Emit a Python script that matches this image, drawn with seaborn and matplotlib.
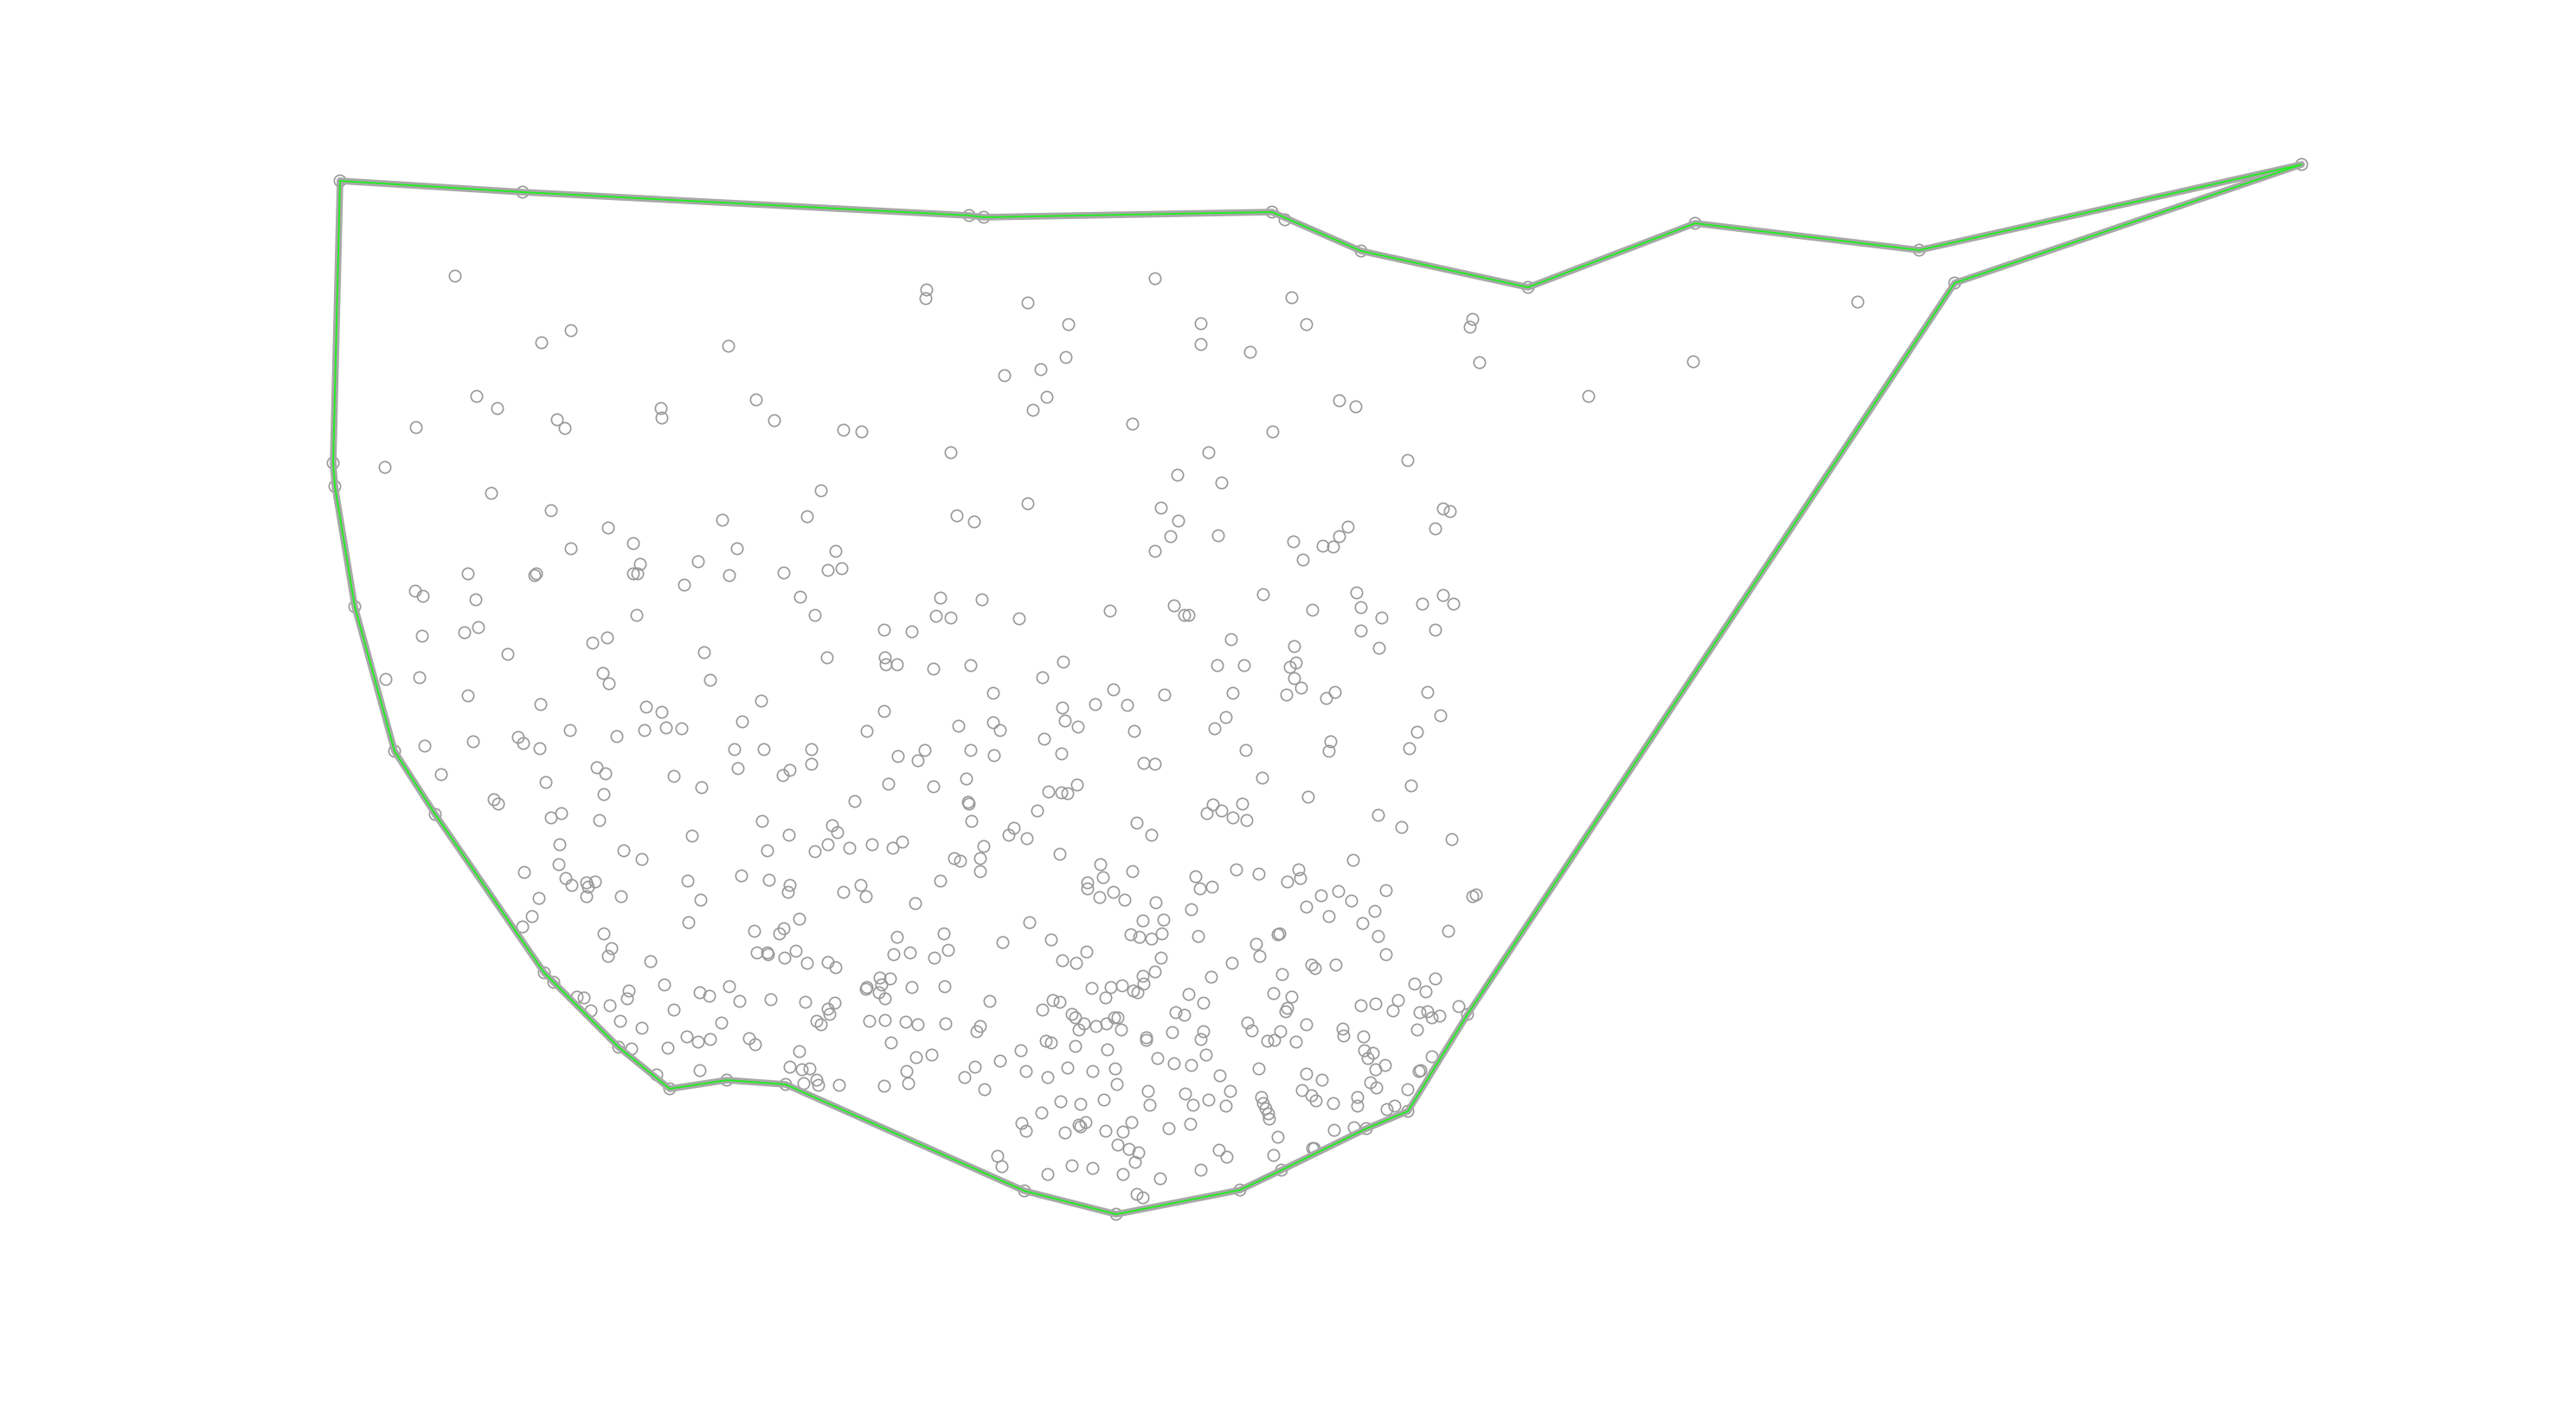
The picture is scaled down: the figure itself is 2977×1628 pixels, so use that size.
import numpy as np
import pandas as pd
import matplotlib
matplotlib.use('Agg')
import matplotlib.pyplot as plt
import seaborn as sns

# point positions (x, y), y grows downwards
upper_left = [(526,319),(660,382),(626,396),(842,400),(551,458),(575,472),(481,494),(644,485),(653,495),
              (764,472),(765,483),(445,540),(568,570),(637,590),(703,610),(835,601),(732,628),(660,634),
              (852,634),(807,649),(740,652),(541,663),(620,663),(618,665),(732,663),(737,663),(843,665),(791,676)]

upper_mid = [(1071,335),(1070,345),(1188,350),(1235,375),(1232,413),(1203,427),(1161,434),(1210,459),(1194,474),
             (874,462),(895,486),(975,497),(996,499),(1099,523),(949,567),(933,597),(1106,596),(1126,603),
             (1188,582),(966,637),(906,662),(957,659),(973,657)]

upper_right = [(1335,322),(1493,344),(1388,374),(1510,375),(1388,398),(1445,407),(1702,369),(1699,378),(1710,419),
               (1548,463),(1567,470),(1309,490),(1471,499),(1397,523),(1361,549),(1412,558),(1627,532),(1342,587),
               (1362,602),(1353,620),(1335,637),(1408,619),(1495,626),(1506,647),(1529,631),(1541,632),(1548,620),
               (1558,609),(1668,588),(1676,591),(1659,611),(1836,458),(1957,418),(2147,349),(1485,254)]

mid_left = [(480,683),(489,689),(550,693),(736,711),(488,735),(537,731),(553,725),(587,756),(685,743),(702,737),
            (814,754),(446,785),(485,783),(541,804),(697,778),(704,790),(821,786),(625,814),(747,817),(765,823),
            (659,844),(745,844),(770,841),(788,842),(858,834),(713,851),(491,862),(547,857),(599,852),(605,859),
            (624,865),(849,866),(853,888),(510,895),(690,887),(700,894),(779,897),(631,904),(811,910),(698,918),
            (571,924),(576,929),(637,945),(649,940),(693,948),(800,966),(647,976),(721,983),(742,993),(646,999),
            (606,1008),(654,1015),(661,1023),(678,1020),(688,1019),(680,1025),(795,1018),(857,1012),(623,1038),
            (678,1036),(718,1036),(810,1040)]

mid_mid = [(925,690),(942,711),(1087,691),(1135,693),(1082,712),(1099,714),(1178,715),(1283,706),(1022,728),(1054,730),
           (956,760),(1023,760),(1024,768),(1037,768),(1079,773),(1122,769),(1229,765),(1205,783),(1148,801),(1287,797),
           (880,810),(1022,822),(1228,818),(1266,814),(1303,815),(1002,845),(1108,839),(1148,835),(1156,844),(1231,833),
           (1246,840),(1207,854),(883,866),(938,866),(938,883),(913,890),(905,896),(1038,874),(1069,867),(1061,879),
           (1122,867),(1149,873),(1227,871),(1027,906),(1079,909),(1117,900),(1119,927),(1120,929),(988,926),(1212,915),
           (1227,916),(1234,917),(1245,907),(1199,937),(881,949),(912,965),(962,954),(968,962),(887,983),(942,984),
           (957,976),(982,980),(1008,976),(1032,980),(1043,973),(1123,949),(1172,957),(1166,965),(1187,969),(1225,987),
           (1137,978),(1133,992),(1133,1007),(1103,992),(1110,995),(889,1017),(913,1023),(911,1031),(975,1031),(995,1023),
           (1001,1036),(1087,1018),(1058,1044),(1272,999),(1275,1014),(1257,1020),(1257,1027),(1271,1037),(1287,1031),(1300,1040)]

mid_right = [(1460,687),(1568,685),(1357,700),(1369,711),(1374,711),(1517,705),(1573,702),(1597,714),(1644,698),(1668,688),
             (1680,698),(1573,729),(1659,728),(1423,739),(1496,747),(1594,749),(1407,769),(1438,769),(1498,766),(1491,771),
             (1496,784),(1504,795),(1487,803),(1346,803),(1425,801),(1543,800),(1533,807),(1650,800),(1665,827),(1417,829),
             (1404,842),(1311,845),(1638,846),(1538,857),(1536,868),(1629,865),(1440,867),(1322,882),(1335,883),(1459,899),
             (1631,908),(1512,921),(1402,930),(1395,940),(1412,937),(1425,945),(1436,929),(1441,948),(1314,951),(1331,965),
             (1593,942),(1620,956),(1678,970),(1564,994),(1309,1007),(1382,1013),(1387,1027),(1401,1025),(1429,1005),(1455,1010),
             (1501,1005),(1503,1015),(1488,1019),(1527,1035),(1547,1030),(1562,1041),(1602,1029),(1702,1036),(1706,1034),(1336,1043)]

low_left = [(615,1059),(604,1071),(796,1066),(698,1079),(707,1096),(703,1105),(752,1111),(768,1138),(727,1145),(725,1154),
            (675,1153),(667,1152),(705,1162),(683,1168),(809,1147),(820,1151),(843,1140),(855,1157),(779,1167),(717,1180),
            (742,1188),(834,1182),(794,1198),(807,1204),(821,1201),(772,1211),(730,1212),(809,1237),(759,1242)]

low_mid = [(872,1076),(901,1079),(906,1073),(924,1062),(875,1101),(887,1101),(888,1103),(907,1107),(920,1099),(933,1113),
           (957,1112),(966,1118),(1037,1083),(1033,1103),(1052,1101),(1091,1079),(1096,1098),(1080,1107),(1190,1066),(1159,1089),
           (1215,1086),(1228,1110),(1244,1113),(1256,1100),(891,1155),(931,1158),(965,1159),(957,1166),(959,1172),(944,1180),
           (949,1184),(1017,1130),(1029,1131),(1019,1138),(1002,1141),(1001,1143),(1016,1147),(1023,1154),(1054,1141),(1092,1140),
           (1144,1157),(1005,1180),(1023,1179),(1047,1181),(1061,1184),(1093,1183),(1129,1192),(1133,1186),(866,1200),(873,1207),
           (924,1215),(1030,1205),(1059,1222),(1077,1219),(913,1233),(927,1236),(936,1235),(929,1252),(944,1248),(946,1254),
           (970,1254),(1022,1255),(1048,1238),(1050,1252),(1115,1245),(1127,1233),(1138,1259),(1156,1226),(1180,1214),(1186,1238),
           (1211,1245),(1234,1234),(1263,1238),(1289,1235),(1291,1253),(1205,1167),(1217,1156),(1225,1158),(1239,1172),(1243,1176),
           (1253,1183),(1247,1190),(1267,1186),(1279,1183),(1288,1176),(1292,1176),(1296,1190),(1209,1203),(1215,1205),(1243,1209),
           (1280,1213),(1262,1142),(1284,1141),(1278,1153),(1297,1139),(1226,1273),(1249,1276),(1276,1271),(1204,1286),(1181,1298),
           (1186,1307),(1247,1300),(1249,1302),(1255,1297),(1231,1309),(1278,1307),(1292,1323),(1298,1308),(1153,1336),(1158,1348),
           (1239,1347),(1263,1350),(1211,1357),(1298,1357)]

low_right = [(1377,1051),(1510,1048),(1536,1059),(1589,1053),(1575,1067),(1593,1082),(1674,1076),(1321,1064),(1345,1063),(1307,1080),
             (1317,1083),(1331,1085),(1343,1079),(1385,1082),(1477,1080),(1479,1079),(1452,1091),(1456,1105),(1602,1103),(1342,1107),
             (1424,1113),(1516,1115),(1520,1119),(1544,1115),(1335,1123),(1321,1128),(1322,1137),(1310,1145),(1315,1147),(1400,1129),
             (1482,1126),(1635,1137),(1648,1146),(1659,1131),(1374,1149),(1391,1159),(1472,1148),(1493,1152),(1488,1165),(1486,1169),
             (1573,1162),(1590,1160),(1616,1156),(1610,1168),(1686,1163),(1641,1170),(1650,1169),(1655,1176),(1664,1174),(1359,1170),
             (1369,1173),(1355,1193),(1325,1199),(1325,1202),(1391,1192),(1388,1201),(1442,1182),(1447,1191),(1465,1203),(1473,1202),
             (1480,1192),(1498,1204),(1510,1184),(1552,1189),(1553,1197),(1576,1198),(1638,1190),(1338,1223),(1357,1229),(1377,1231),
             (1394,1219),(1455,1235),(1410,1243),(1510,1241),(1528,1248),(1577,1214),(1587,1217),(1581,1223),(1590,1236),(1601,1231),
             (1655,1221),(1640,1238),(1642,1237),(1584,1251),(1591,1257),(1627,1259),(1327,1261),(1329,1277),(1370,1264),(1379,1277),
             (1397,1271),(1422,1261),(1417,1278),(1458,1268),(1460,1275),(1463,1281),(1466,1287),(1467,1293),(1505,1260),(1516,1266),
             (1521,1272),(1541,1275),(1569,1268),(1569,1278),(1603,1282),(1612,1278),(1308,1297),(1351,1304),(1376,1299),(1477,1314),
             (1542,1306),(1565,1303),(1409,1329),(1418,1337),(1305,1328),(1316,1332),(1312,1343),(1341,1362),(1388,1352),(1472,1335),
             (1517,1327),(1519,1327),(1314,1380),(1321,1384)]

# concave hull, in drawing order (closed)
hull = [(393,209),(604,222),(1120,249),(1137,251),(1470,245),(1573,290),(1766,332),(1959,258),(2218,289),(2660,190),
        (2259,327),(1696,1172),(1627,1284),(1579,1304),(1481,1352),(1433,1375),(1290,1403),(1184,1376),(908,1253),(840,1248),
        (774,1258),(715,1210),(640,1135),(629,1124),(503,941),(456,868),(410,701),(387,562),(385,535),(393,209)]

W, H = 2977, 1628

pts = np.array(upper_left + upper_mid + upper_right + mid_left + mid_mid + mid_right
               + low_left + low_mid + low_right + hull[:-1])
df = pd.DataFrame(pts, columns=['x', 'y'])
hull_df = pd.DataFrame(hull, columns=['x', 'y'])

sns.set_theme(style='white')
fig = plt.figure(figsize=(W / 100, H / 100), dpi=100)
ax = fig.add_axes([0, 0, 1, 1])

sns.scatterplot(data=df, x='x', y='y', marker='o', s=92, color='none',
                edgecolor='#999999', linewidth=1.2, ax=ax, zorder=2)

# grey casing then green line on top
sns.lineplot(data=hull_df, x='x', y='y', sort=False, estimator=None, color='#a8a8a8',
             linewidth=5.5, ax=ax, zorder=3, solid_joinstyle='round')
sns.lineplot(data=hull_df, x='x', y='y', sort=False, estimator=None, color='#22ee22',
             linewidth=1.4, ax=ax, zorder=4, solid_joinstyle='round')

ax.set_xlim(0, W)
ax.set_ylim(H, 0)
ax.set_axis_off()

plt.savefig('out.png', dpi=100, facecolor='white')
